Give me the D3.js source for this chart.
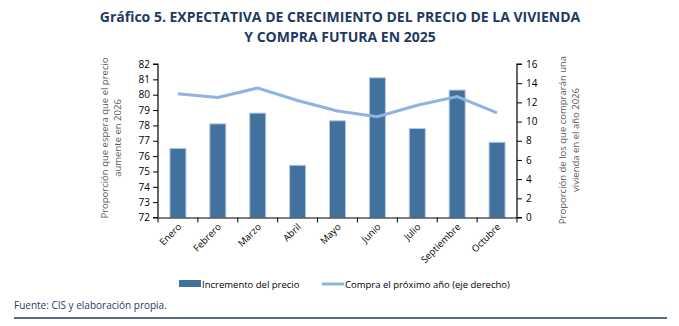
<!DOCTYPE html>
<html><head><meta charset="utf-8">
<script src="https://cdn.jsdelivr.net/npm/d3@7"></script>
<style>body{margin:0;background:#fff}svg{display:block}text{font-family:"Open Sans",sans-serif}</style>
</head><body><svg id="c" width="679" height="326"></svg>
<script>
const months = ["Enero","Febrero","Marzo","Abril","Mayo","Junio","Julio","Septiembre","Octubre"];
const precio = [76.5,78.1,78.8,75.4,78.3,81.1,77.8,80.3,76.9];
const compra = [12.9,12.5,13.5,12.2,11.1,10.5,11.7,12.6,10.9];
const leftTicks = [72,73,74,75,76,77,78,79,80,81,82];
const rightTicks = [0,2,4,6,8,10,12,14,16];

const svg = d3.select("#c");
const navy = "#1f3a5f";
const m = {l:158, r:517, t:64, b:217.5};
const xb = d3.scaleBand().domain(months).range([m.l, m.r]);
const yL = d3.scaleLinear().domain([72,82]).range([m.b, m.t]);
const yR = d3.scaleLinear().domain([0,16]).range([m.b, m.t]);

svg.append("text").attr("x",340).attr("y",22).attr("text-anchor","middle").attr("font-size",14).attr("font-weight","bold").attr("fill",navy)
  .text("Gráfico 5. EXPECTATIVA DE CRECIMIENTO DEL PRECIO DE LA VIVIENDA");
svg.append("text").attr("x",340).attr("y",42).attr("text-anchor","middle").attr("font-size",14).attr("font-weight","bold").attr("fill",navy)
  .text("Y COMPRA FUTURA EN 2025");

// bars
svg.append("g").selectAll("rect").data(months).join("rect")
  .attr("x", d=>xb(d)+xb.bandwidth()/2-8).attr("width",16)
  .attr("y", (d,i)=>yL(precio[i])).attr("height",(d,i)=>m.b-yL(precio[i]))
  .attr("fill","#41719c").attr("stroke","#b4c7e7").attr("stroke-width",1);

// line
const line = d3.line().x((d,i)=>xb(months[i])+xb.bandwidth()/2).y(d=>yR(d));
svg.append("path").datum(compra).attr("d",line).attr("fill","none").attr("stroke","#8eb4e3").attr("stroke-width",3);

// axes
const fs = 10;
const gl = svg.append("g").attr("transform",`translate(${m.l},0)`).call(d3.axisLeft(yL).tickValues(leftTicks).tickSize(5).tickPadding(3).tickFormat(d3.format("d")));
const gr = svg.append("g").attr("transform",`translate(${m.r},0)`).call(d3.axisRight(yR).tickValues(rightTicks).tickSize(5).tickPadding(4).tickFormat(d3.format("d")));
const gx = svg.append("g").attr("transform",`translate(0,${m.b})`).call(d3.axisBottom(xb).tickSize(0).tickFormat(""));
const bounds = months.map(d=>xb(d)).concat([m.r]);
svg.append("g").selectAll("line").data(bounds).join("line")
  .attr("x1",d=>d).attr("x2",d=>d).attr("y1",m.b).attr("y2",m.b+5).attr("stroke","#000");
[gl,gr,gx].forEach(g=>{g.select(".domain").attr("stroke","#000").attr("stroke-width",1.2);g.selectAll(".tick line").attr("stroke","#000");g.selectAll("text").attr("font-size",fs).attr("fill","#000").attr("font-family","Open Sans, sans-serif");});
gr.select(".domain").attr("d",`M5,${m.t}H0V${m.b}H5`);
gl.select(".domain").attr("d",`M-5,${m.t}H0V${m.b}H-5`);

// x labels
svg.append("g").selectAll("text").data(months).join("text")
  .attr("transform",d=>`translate(${xb(d)+xb.bandwidth()/2+4},${m.b+10}) rotate(-45)`)
  .attr("text-anchor","end").attr("font-size",9.5).attr("fill","#000").text(d=>d);

// axis titles
const gl2 = svg.append("g").attr("transform","translate(108,138) rotate(-90)");
gl2.append("text").attr("text-anchor","middle").attr("font-size",9.5).attr("fill","#595959").attr("y",0).text("Proporción que espera que el precio");
gl2.append("text").attr("text-anchor","middle").attr("font-size",9.5).attr("fill","#595959").attr("y",13).text("aumente en 2026");
const gr2 = svg.append("g").attr("transform","translate(566,140) rotate(-90)");
gr2.append("text").attr("text-anchor","middle").attr("font-size",9.5).attr("fill","#595959").attr("y",0).text("Proporción de los que comprarán una");
gr2.append("text").attr("text-anchor","middle").attr("font-size",9.5).attr("fill","#595959").attr("y",13).text("vivienda en el año 2026");

// legend
svg.append("rect").attr("x",179).attr("y",280).attr("width",22).attr("height",7).attr("fill","#41719c");
svg.append("text").attr("x",202).attr("y",288).attr("font-size",9.5).attr("fill","#000").text("Incremento del precio");
svg.append("line").attr("x1",322).attr("x2",344).attr("y1",284).attr("y2",284).attr("stroke","#8eb4e3").attr("stroke-width",3);
svg.append("text").attr("x",345).attr("y",288).attr("font-size",9.5).attr("fill","#000").text("Compra el próximo año (eje derecho)");

// footer
svg.append("text").attr("x",14).attr("y",309).attr("font-size",10).attr("fill",navy).text("Fuente: CIS y elaboración propia.");
svg.append("line").attr("x1",14).attr("x2",667).attr("y1",318).attr("y2",318).attr("stroke",navy).attr("stroke-width",1.5);
</script></body></html>
